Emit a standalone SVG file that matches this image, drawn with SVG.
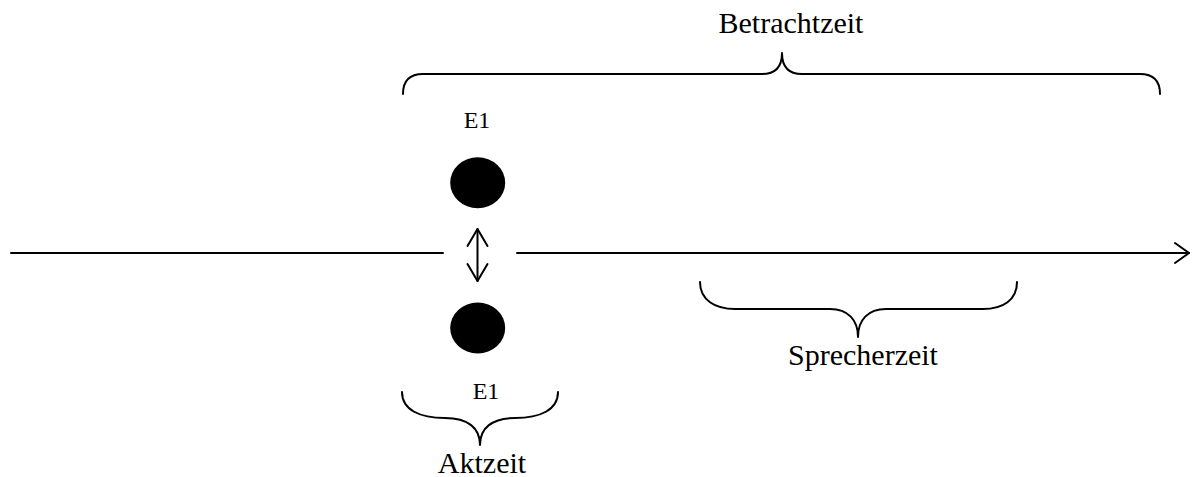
<svg xmlns="http://www.w3.org/2000/svg" width="1192" height="477" viewBox="0 0 1192 477">
<defs>
<style>
.t{font-family:"Liberation Serif","Times New Roman",serif;fill:#000;text-anchor:middle}
.big{font-size:30px}
.small{font-size:24px}
.ln{stroke:#000;stroke-width:2;fill:none;stroke-linecap:round;stroke-linejoin:round}
.dot{fill:#000}
</style>
</defs>
<rect width="1192" height="477" fill="#fff"/>
<g id="betrachtzeit">
<path class="ln" d="M403,94 Q403,74 423,74 L762,74 Q782,74 782,53 Q782,74 802,74 L1140,74 Q1160,74 1160,94"/>
<text class="t big" x="791" y="33">Betrachtzeit</text>
</g>
<g id="e1-top">
<text class="t small" x="477" y="128">E1</text>
<ellipse class="dot" cx="477.7" cy="182.7" rx="27.5" ry="25.5"/>
</g>
<g id="e1-bottom">
<ellipse class="dot" cx="477.7" cy="328" rx="27.5" ry="25.5"/>
<text class="t small" x="486" y="399">E1</text>
</g>
<g id="aktzeit">
<path class="ln" d="M402,392 C402,410 420,418 445,418 C468,418 480,428 480,445 C480,428 492,418 515,418 C540,418 558,410 558,392"/>
<text class="t big" x="482" y="473">Aktzeit</text>
</g>
<g id="sprecherzeit">
<path class="ln" d="M700,282 C700,300 715,309 735,309 L830,309 C848,309 858,320 858,337 C858,320 868,309 886,309 L983,309 C1003,309 1017,300 1017,282"/>
<text class="t big" x="863" y="365">Sprecherzeit</text>
</g>
<g id="connectors">
<path class="ln" d="M11,253 L443,253"/>
<path class="ln" d="M517,253 L1189,253"/>
<path class="ln" d="M1175,243 L1189,253 L1175,263"/>
<path class="ln" d="M477.5,229 L477.5,281"/>
<path class="ln" d="M467.5,246 L477.5,229 L487.5,246"/>
<path class="ln" d="M467.5,264 L477.5,281 L487.5,264"/>
</g>
</svg>
